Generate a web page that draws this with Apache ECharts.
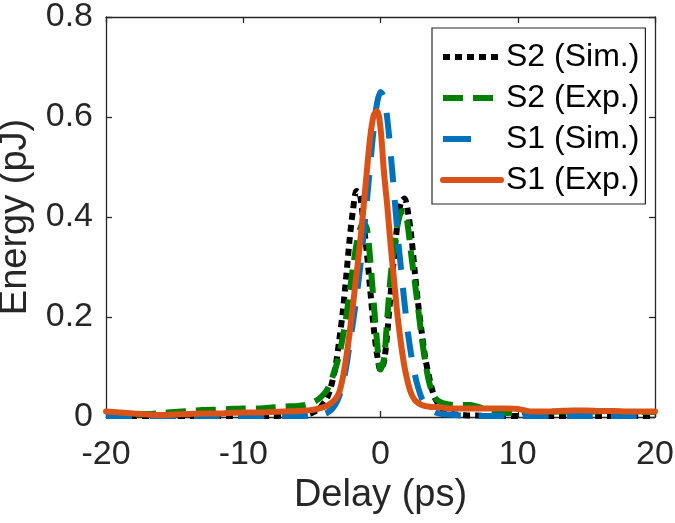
<!DOCTYPE html>
<html>
<head>
<meta charset="utf-8">
<script src="https://cdn.jsdelivr.net/npm/echarts@6/dist/echarts.min.js"></script>
<style>
  html, body { margin: 0; padding: 0; background: #fff; }
  #chart { width: 675px; height: 523px; }
</style>
</head>
<body>
<div id="chart"></div>
<script>
// Delay axis samples (ps)
const delays = [-20,-19,-18,-17,-16,-15,-14,-13,-12,-11,-10,-9,-8,-7,-6,
  -5.5,-5,-4.5,-4,
  -3.75,-3.5,-3.25,-3,-2.75,-2.5,-2.25,-2,-1.75,-1.5,-1.25,-1,-0.75,-0.5,-0.25,0,
  0.25,0.5,0.75,1,1.25,1.5,1.75,2,2.25,2.5,2.75,3,3.25,3.5,3.75,4,
  4.5,5,5.5,6,6.5,7,
  8,9,10,11,12,13,14,15,16,17,18,19,20];

// S2 (Sim.) energy (pJ)
const s2Sim = [0.002,0.002,0.002,0.002,0.002,0.002,0.002,0.002,0.002,0.002,0.002,0.002,0.002,0.003,0.004,
  0.005,0.008,0.016,0.033,
  0.048,0.072,0.105,0.155,0.21,0.28,0.355,0.415,0.452,0.445,0.39,0.33,0.255,0.18,0.125,0.094,
  0.11,0.17,0.25,0.325,0.39,0.43,0.437,0.41,0.36,0.29,0.225,0.17,0.12,0.085,0.056,0.036,
  0.016,0.008,0.005,0.004,0.003,0.003,
  0.002,0.002,0.002,0.002,0.002,0.002,0.002,0.002,0.002,0.002,0.002,0.002,0.002];

// S2 (Exp.) energy (pJ)
const s2Exp = [0.004,0.004,0.005,0.006,0.008,0.010,0.012,0.014,0.015,0.016,0.017,0.017,0.019,0.021,0.022,
  0.024,0.028,0.036,0.05,
  0.062,0.08,0.10,0.125,0.16,0.20,0.25,0.30,0.345,0.375,0.388,0.378,0.315,0.23,0.15,0.095,
  0.115,0.20,0.285,0.34,0.385,0.41,0.412,0.38,0.322,0.27,0.215,0.16,0.112,0.075,0.05,0.037,
  0.028,0.025,0.024,0.024,0.024,0.021,
  0.013,0.008,0.009,0.010,0.010,0.011,0.011,0.011,0.011,0.010,0.010,0.010,0.010];

// S1 (Sim.) energy (pJ)
const s1Sim = [0.002,0.002,0.002,0.002,0.002,0.002,0.002,0.002,0.002,0.002,0.002,0.002,0.002,0.002,0.002,
  0.002,0.003,0.004,0.007,
  0.011,0.017,0.027,0.042,0.065,0.10,0.145,0.19,0.24,0.295,0.36,0.43,0.505,0.575,0.628,0.65,
  0.64,0.595,0.525,0.445,0.365,0.295,0.228,0.168,0.122,0.085,0.058,0.038,0.026,0.018,0.013,0.009,
  0.006,0.005,0.004,0.003,0.003,0.002,
  0.002,0.002,0.002,0.002,0.002,0.002,0.002,0.002,0.002,0.002,0.002,0.002,0.002];

// S1 (Exp.) energy (pJ)
const s1Exp = [0.011,0.009,0.007,0.005,0.004,0.005,0.006,0.007,0.007,0.008,0.009,0.009,0.010,0.011,0.012,
  0.013,0.014,0.017,0.021,
  0.025,0.03,0.037,0.05,0.078,0.118,0.168,0.225,0.285,0.345,0.415,0.49,0.56,0.603,0.612,0.578,
  0.49,0.42,0.34,0.27,0.20,0.145,0.10,0.068,0.046,0.034,0.028,0.024,0.022,0.021,0.020,0.020,
  0.019,0.017,0.017,0.017,0.017,0.017,
  0.017,0.017,0.016,0.011,0.011,0.012,0.013,0.013,0.012,0.012,0.011,0.011,0.011];

const seriesNames = ['S2 (Sim.)', 'S2 (Exp.)', 'S1 (Sim.)', 'S1 (Exp.)'];
const xTicks = { min: -20, max: 20, interval: 10 };
const yTicks = { min: 0, max: 0.8, interval: 0.2 };

const FONT = "'Liberation Sans', Arial, Helvetica, sans-serif";
const AX = '#262626';

function pairs(vals) { return delays.map((d, i) => [d, vals[i]]); }

const chart = echarts.init(document.getElementById('chart'), null, { renderer: 'canvas' });

const axisLineStyle = { color: AX, width: 1.3 };
const tick = { show: true, inside: true, length: 6, lineStyle: { color: AX, width: 1.3 } };

const option = {
  animation: false,
  backgroundColor: '#fff',
  textStyle: { fontFamily: FONT },
  grid: { left: 106, right: 20, top: 17, bottom: 106, containLabel: false, outerBoundsMode: 'none' },
  xAxis: [
    {
      type: 'value', position: 'bottom', min: xTicks.min, max: xTicks.max, interval: xTicks.interval,
      axisLine: { show: true, onZero: false, lineStyle: axisLineStyle },
      axisTick: tick,
      axisLabel: { fontSize: 34, color: AX, margin: 21, fontFamily: FONT },
      splitLine: { show: false },
      name: 'Delay (ps)', nameLocation: 'middle', nameGap: 57,
      nameTextStyle: { fontSize: 38, color: AX, fontFamily: FONT }
    },
    {
      type: 'value', position: 'top', min: xTicks.min, max: xTicks.max, interval: xTicks.interval,
      axisLine: { show: true, onZero: false, lineStyle: axisLineStyle },
      axisTick: tick, axisLabel: { show: false }, splitLine: { show: false }
    }
  ],
  yAxis: [
    {
      type: 'value', position: 'left', min: yTicks.min, max: yTicks.max, interval: yTicks.interval,
      axisLine: { show: true, onZero: false, lineStyle: axisLineStyle },
      axisTick: tick,
      axisLabel: { fontSize: 34, color: AX, margin: 13, fontFamily: FONT },
      splitLine: { show: false },
      name: 'Energy (pJ)', nameLocation: 'middle', nameGap: 57,
      nameTextStyle: { fontSize: 38, color: AX, fontFamily: FONT }
    },
    {
      type: 'value', position: 'right', min: yTicks.min, max: yTicks.max, interval: yTicks.interval,
      axisLine: { show: true, onZero: false, lineStyle: axisLineStyle },
      axisTick: tick, axisLabel: { show: false }, splitLine: { show: false }
    }
  ],
  legend: {
    orient: 'vertical', left: 432, top: 28,
    itemWidth: 58, itemHeight: 8, itemGap: 9,
    padding: [13, 6, 8, 8],
    borderColor: AX, borderWidth: 1.2, backgroundColor: '#fff',
    textStyle: { fontSize: 32, color: '#000', fontFamily: FONT },
    itemStyle: { opacity: 0 },
    lineStyle: { width: 6 },
    data: [
      { name: seriesNames[0] },
      { name: seriesNames[1] },
      { name: seriesNames[2], lineStyle: { type: [28, 40] } },
      { name: seriesNames[3] }
    ]
  },
  series: [
    { name: seriesNames[0], type: 'line', data: pairs(s2Sim), symbol: 'none', smooth: 0.3, clip: false,
      lineStyle: { color: '#000000', width: 6, type: [7, 5], cap: 'butt' }, itemStyle: { color: '#000000' }, z: 2 },
    { name: seriesNames[1], type: 'line', data: pairs(s2Exp), symbol: 'none', smooth: 0.3, clip: false,
      lineStyle: { color: '#008000', width: 6, type: [20, 10], cap: 'butt' }, itemStyle: { color: '#008000' }, z: 3 },
    { name: seriesNames[2], type: 'line', data: pairs(s1Sim), symbol: 'none', smooth: 0.3, clip: false,
      lineStyle: { color: '#0072BD', width: 6, type: [26, 18], cap: 'butt' }, itemStyle: { color: '#0072BD' }, z: 4 },
    { name: seriesNames[3], type: 'line', data: pairs(s1Exp), symbol: 'none', smooth: 0.3, clip: false,
      lineStyle: { color: '#D95319', width: 6, type: 'solid', cap: 'round', join: 'round' }, itemStyle: { color: '#D95319' }, z: 5 }
  ]
};

chart.setOption(option);
</script>
</body>
</html>
